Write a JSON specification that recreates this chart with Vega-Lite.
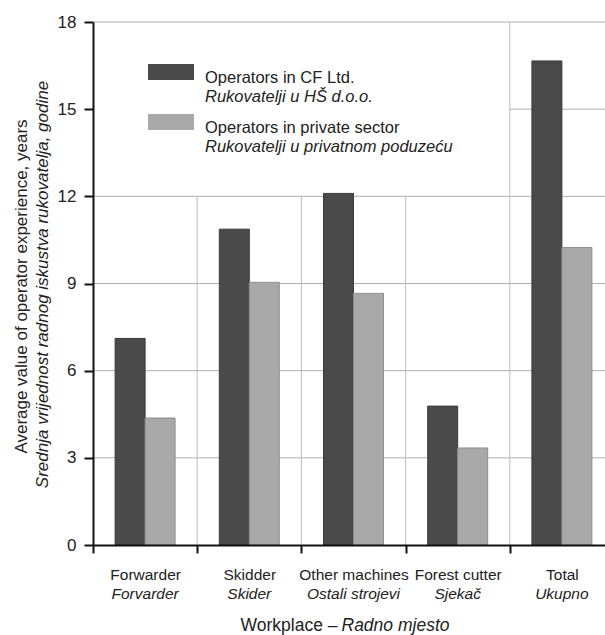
{
  "$schema": "https://vega.github.io/schema/vega-lite/v6.json",
  "width": 512,
  "height": 523,
  "autosize": {"type": "none"},
  "padding": {"left": 93, "top": 22, "right": 0, "bottom": 90},
  "background": "white",
  "config": {
    "view": {"stroke": null},
    "font": "'Liberation Sans', Arial, sans-serif"
  },
  "datasets": {
    "bars": [
      {"workplace": "Forwarder", "series": "Operators in CF Ltd.", "series_hr": "Rukovatelji u HŠ d.o.o.", "value": 7.11},
      {"workplace": "Forwarder", "series": "Operators in private sector", "series_hr": "Rukovatelji u privatnom poduzeću", "value": 4.37},
      {"workplace": "Skidder", "series": "Operators in CF Ltd.", "series_hr": "Rukovatelji u HŠ d.o.o.", "value": 10.87},
      {"workplace": "Skidder", "series": "Operators in private sector", "series_hr": "Rukovatelji u privatnom poduzeću", "value": 9.04},
      {"workplace": "Other machines", "series": "Operators in CF Ltd.", "series_hr": "Rukovatelji u HŠ d.o.o.", "value": 12.1},
      {"workplace": "Other machines", "series": "Operators in private sector", "series_hr": "Rukovatelji u privatnom poduzeću", "value": 8.66},
      {"workplace": "Forest cutter", "series": "Operators in CF Ltd.", "series_hr": "Rukovatelji u HŠ d.o.o.", "value": 4.78},
      {"workplace": "Forest cutter", "series": "Operators in private sector", "series_hr": "Rukovatelji u privatnom poduzeću", "value": 3.34},
      {"workplace": "Total", "series": "Operators in CF Ltd.", "series_hr": "Rukovatelji u HŠ d.o.o.", "value": 16.66},
      {"workplace": "Total", "series": "Operators in private sector", "series_hr": "Rukovatelji u privatnom poduzeću", "value": 10.24}
    ],
    "hgrid": [{"v": 3}, {"v": 6}, {"v": 9}, {"v": 12}, {"v": 18}],
    "vgrid": [
      {"workplace": "Skidder", "bottom": 0, "top": 12},
      {"workplace": "Other machines", "bottom": 0, "top": 12},
      {"workplace": "Forest cutter", "bottom": 0, "top": 12},
      {"workplace": "Total", "bottom": 0, "top": 18}
    ],
    "pgrid": [{"workplace": "Total", "v": 15}]
  },
  "resolve": {"axis": {"x": "independent", "y": "independent"}},
  "layer": [
    {
      "data": {"name": "hgrid"},
      "mark": {"type": "rule", "color": "#b0b0b0", "strokeWidth": 1},
      "encoding": {
        "y": {"field": "v", "type": "quantitative", "axis": null}
      }
    },
    {
      "data": {"name": "vgrid"},
      "mark": {"type": "rule", "color": "#bcbcbc", "strokeWidth": 1},
      "encoding": {
        "x": {"field": "workplace", "type": "nominal", "bandPosition": 0, "axis": null},
        "y": {"field": "bottom", "type": "quantitative", "axis": null},
        "y2": {"field": "top"}
      }
    },
    {
      "data": {"name": "pgrid"},
      "mark": {"type": "rule", "color": "#b0b0b0", "strokeWidth": 1},
      "encoding": {
        "x": {"field": "workplace", "type": "nominal", "bandPosition": 0, "axis": null},
        "x2": {"value": "width"},
        "y": {"field": "v", "type": "quantitative", "axis": null}
      }
    },
    {
      "data": {"name": "bars"},
      "mark": {"type": "bar", "strokeWidth": 1},
      "encoding": {
        "x": {
          "field": "workplace", "type": "nominal", "sort": null,
          "scale": {"domain": ["Forwarder", "Skidder", "Other machines", "Forest cutter", "Total"], "range": [0, 521], "paddingInner": 0, "paddingOuter": 0},
          "axis": {
            "orient": "bottom", "zindex": 1, "grid": false,
            "domainColor": "#111", "domainWidth": 2,
            "ticks": true, "tickBand": "extent", "tickColor": "#111", "tickWidth": 2, "tickSize": 8,
            "labelAngle": 0, "labelAlign": "center", "labelFontSize": 15.5, "labelColor": "#222", "labelBaseline": "alphabetic", "labelPadding": 26,
            "title": "Workplace –", "titleFontSize": 17.5, "titleFontWeight": "normal", "titleColor": "#222",
            "titleAlign": "right", "titleX": 244, "titleY": 85, "titleBaseline": "alphabetic"
          }
        },
        "xOffset": {"field": "series", "type": "nominal", "scale": {"paddingInner": 0, "paddingOuter": 0.7375}},
        "y": {
          "field": "value", "type": "quantitative",
          "scale": {"domain": [0, 18], "nice": false},
          "axis": {
            "orient": "left", "zindex": 1, "grid": false, "values": [0, 3, 6, 9, 12, 15, 18],
            "domainColor": "#111", "domainWidth": 2,
            "tickColor": "#111", "tickWidth": 2, "tickSize": 9,
            "labelPadding": 8, "labelFontSize": 17, "labelColor": "#222",
            "title": "Average value of operator experience, years", "titleFontSize": 17, "titleFontWeight": "normal", "titleColor": "#222",
            "titleX": -67, "titleY": 264, "titleBaseline": "alphabetic"
          }
        },
        "color": {
          "field": "series", "type": "nominal",
          "scale": {"domain": ["Operators in CF Ltd.", "Operators in private sector"], "range": ["#4a4a4a", "#a9a9a9"]},
          "legend": {
            "orient": "none", "legendX": 55, "legendY": 33, "title": null, "padding": 0,
            "symbolType": "M-1,-0.609H1V0.087H-1Z", "symbolSize": 2116, "symbolStrokeWidth": 0,
            "labelFontSize": 16.5, "labelColor": "#222", "labelOffset": 11, "rowPadding": 18, "labelLimit": 400
          }
        },
        "stroke": {
          "field": "series", "type": "nominal",
          "scale": {"domain": ["Operators in CF Ltd.", "Operators in private sector"], "range": ["#3a3a3a", "#8e8e8e"]},
          "legend": null
        }
      }
    },
    {
      "data": {"name": "bars"},
      "mark": {"type": "point", "opacity": 0, "size": 2116},
      "encoding": {
        "x": {
          "field": "workplace", "type": "nominal", "sort": null,
          "axis": {
            "orient": "bottom", "grid": false, "domain": false, "ticks": false, "tickSize": 0,
            "labelAngle": 0, "labelAlign": "center", "labelFontSize": 15.5, "labelColor": "#222", "labelFontStyle": "italic", "labelBaseline": "alphabetic", "labelPadding": 53,
            "labelExpr": "datum.label == 'Forwarder' ? 'Forvarder' : datum.label == 'Skidder' ? 'Skider' : datum.label == 'Other machines' ? 'Ostali strojevi' : datum.label == 'Forest cutter' ? 'Sjekač' : 'Ukupno'",
            "title": "Radno mjesto", "titleFontSize": 17.5, "titleFontWeight": "normal", "titleFontStyle": "italic", "titleColor": "#222",
            "titleAlign": "left", "titleX": 248, "titleY": 85, "titleBaseline": "alphabetic"
          }
        },
        "y": {
          "field": "value", "type": "quantitative",
          "axis": {
            "orient": "left", "grid": false, "domain": false, "ticks": false, "labels": false,
            "title": "Srednja vrijednost radnog iskustva rukovatelja, godine", "titleFontSize": 17, "titleFontWeight": "normal", "titleFontStyle": "italic", "titleColor": "#222",
            "titleX": -46, "titleY": 262, "titleBaseline": "alphabetic"
          }
        },
        "shape": {
          "field": "series_hr", "type": "nominal",
          "scale": {"domain": ["Rukovatelji u HŠ d.o.o.", "Rukovatelji u privatnom poduzeću"], "range": ["M-1,-0.609H1V0.087H-1Z", "M-1,-0.609H1V0.087H-1Z"]},
          "legend": {
            "orient": "none", "legendX": 55, "legendY": 52, "title": null, "padding": 0,
            "symbolSize": 2116, "symbolOpacity": 0, "symbolStrokeWidth": 0,
            "labelFontSize": 16.5, "labelColor": "#222", "labelFontStyle": "italic", "labelOffset": 11, "rowPadding": 18, "labelLimit": 400
          }
        }
      }
    }
  ]
}
